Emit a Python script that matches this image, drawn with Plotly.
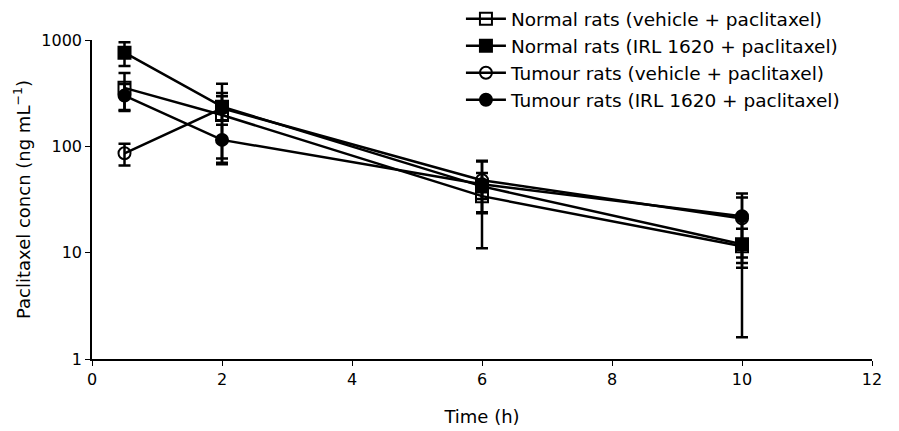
import plotly.graph_objects as go

time_h = [0.5, 2, 6, 10]

names = [
    "Normal rats (vehicle + paclitaxel)",
    "Normal rats (IRL 1620 + paclitaxel)",
    "Tumour rats (vehicle + paclitaxel)",
    "Tumour rats (IRL 1620 + paclitaxel)",
]

normal_vehicle = [355, 197, 34, 11.5]
normal_vehicle_sd = [135, 120, 10.5, 9.9]

normal_irl = [760, 236, 42, 12]
normal_irl_sd = [190, 60, 31, 4.8]

tumour_vehicle = [86, 228, 48, 21]
tumour_vehicle_sd = [20, 160, 24, 12]

tumour_irl = [300, 115, 44, 22]
tumour_irl_sd = [85, 45, 12, 14]

symbols = ["square-open", "square", "circle-open", "circle"]
series = [normal_vehicle, normal_irl, tumour_vehicle, tumour_irl]
sds = [normal_vehicle_sd, normal_irl_sd, tumour_vehicle_sd, tumour_irl_sd]

FONT = "DejaVu Sans, sans-serif"

fig = go.Figure()
for name, sym, ys, sd in zip(names, symbols, series, sds):
    fig.add_trace(go.Scatter(
        x=time_h, y=ys, name=name, mode="lines+markers",
        line=dict(color="black", width=2.5),
        marker=dict(symbol=sym, size=12, color="black",
                    line=dict(color="black", width=2)),
        error_y=dict(type="data", array=sd, visible=True,
                     color="black", thickness=2.5, width=6),
    ))

fig.update_layout(
    width=899, height=431,
    margin=dict(l=84, r=35, t=32, b=80, autoexpand=False),
    plot_bgcolor="white", paper_bgcolor="white",
    font=dict(family=FONT, size=16, color="black"),
    showlegend=True,
    legend=dict(x=0.473, y=1.125, xanchor="left", yanchor="top",
                bgcolor="rgba(0,0,0,0)", font=dict(size=18.5),
                tracegroupgap=0, itemwidth=40),
    xaxis=dict(range=[0, 12], tickvals=[0, 2, 4, 6, 8, 10, 12],
               showline=True, linecolor="black", linewidth=1.5,
               ticks="outside", ticklen=5, tickcolor="black",
               showgrid=False, zeroline=False,
               title=dict(text="Time (h)", font=dict(size=18), standoff=22)),
    yaxis=dict(type="log", range=[0, 3], tickvals=[1, 10, 100, 1000],
               ticktext=["1", "10", "100", "1000"],
               showline=True, linecolor="black", linewidth=1.5,
               ticks="outside", ticklen=5, tickcolor="black",
               showgrid=False, zeroline=False,
               title=dict(text="Paclitaxel concn (ng mL<sup>\u22121</sup>)",
                          font=dict(size=18), standoff=6)),
)

fig.write_html("out.html")
